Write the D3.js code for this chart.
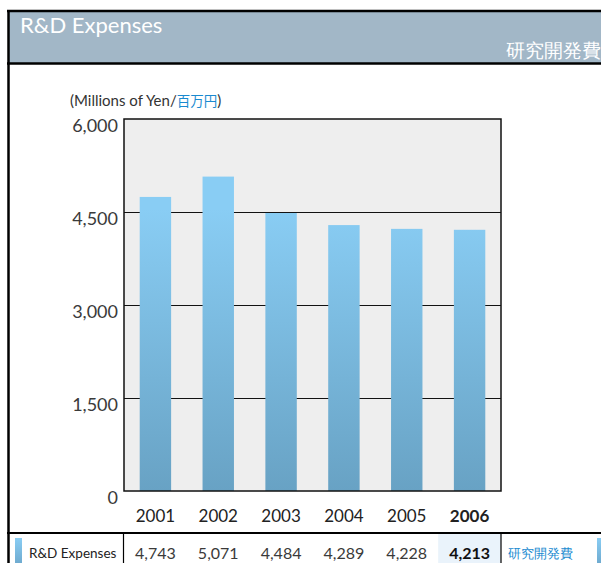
<!DOCTYPE html>
<html>
<head>
<meta charset="utf-8">
<script src="https://cdn.jsdelivr.net/npm/d3@7"></script>
<style>
  body { margin: 0; background: #fff; }
  svg { display: block; }
  text { font-family: "Lato", "Open Sans", sans-serif; }
</style>
</head>
<body>
<script>
'use strict'

// chart data
const years = ['2001', '2002', '2003', '2004', '2005', '2006'];
const expenses = [4743, 5071, 4484, 4289, 4228, 4213];
const yTicks = [0, 1500, 3000, 4500, 6000];
const titleEn = 'R&D Expenses';
const titleJa = '研究開発費';

const W = 601, H = 563;
const plot = {left: 124, right: 501, top: 119, bottom: 491};

const svg = d3.select('body').append('svg')
  .attr('width', W)
  .attr('height', H);

const defs = svg.append('defs');
const grad = defs.append('linearGradient')
  .attr('id', 'barGrad')
  .attr('gradientUnits', 'userSpaceOnUse')
  .attr('x1', 0).attr('x2', 0)
  .attr('y1', plot.top + 90).attr('y2', plot.bottom);
grad.append('stop').attr('offset', 0).attr('stop-color', '#89cdf4');
grad.append('stop').attr('offset', 1).attr('stop-color', '#68a2c4');

const swGrad = defs.append('linearGradient')
  .attr('id', 'swGrad')
  .attr('x1', 0).attr('x2', 0).attr('y1', 0).attr('y2', 1);
swGrad.append('stop').attr('offset', 0).attr('stop-color', '#89cdf4');
swGrad.append('stop').attr('offset', 1).attr('stop-color', '#6fabd0');

// header band
svg.append('rect')
  .attr('x', 8).attr('y', 11)
  .attr('width', W - 8).attr('height', 52)
  .attr('fill', '#a2b7c7');
svg.append('line')
  .attr('x1', 7).attr('x2', W).attr('y1', 11).attr('y2', 11)
  .attr('stroke', '#000').attr('stroke-width', 2.5);
svg.append('line')
  .attr('x1', 7).attr('x2', W).attr('y1', 63.5).attr('y2', 63.5)
  .attr('stroke', '#000').attr('stroke-width', 2.5);
svg.append('line')
  .attr('x1', 8.5).attr('x2', 8.5).attr('y1', 10).attr('y2', H)
  .attr('stroke', '#000').attr('stroke-width', 2.5);

svg.append('text')
  .attr('x', 20).attr('y', 33)
  .attr('fill', '#fff')
  .attr('font-size', 22)
  .text(titleEn);
svg.append('text')
  .attr('x', 601).attr('y', 57)
  .attr('text-anchor', 'end')
  .attr('fill', '#fff')
  .attr('font-size', 19)
  .attr('font-family', '"Noto Sans CJK JP", sans-serif')
  .attr('font-weight', 300)
  .text(titleJa);

// scales
const x = d3.scaleBand()
  .domain(years)
  .range([plot.left, plot.right])
  .paddingInner(0.5)
  .paddingOuter(0.25);

const y = d3.scaleLinear()
  .domain([0, 6000])
  .range([plot.bottom, plot.top]);

// plot background
svg.append('rect')
  .attr('x', plot.left).attr('y', plot.top)
  .attr('width', plot.right - plot.left)
  .attr('height', plot.bottom - plot.top)
  .attr('fill', '#eeeeee');

// gridlines (behind bars)
svg.append('g')
  .selectAll('line')
  .data(yTicks.filter(d => d > 0 && d < 6000))
  .enter()
  .append('line')
  .attr('x1', plot.left).attr('x2', plot.right)
  .attr('y1', d => y(d) + 0.5).attr('y2', d => y(d) + 0.5)
  .attr('stroke', '#111').attr('stroke-width', 1.2);

// bars
svg.append('g')
  .selectAll('rect')
  .data(expenses)
  .enter()
  .append('rect')
  .attr('x', (d, i) => x(years[i]))
  .attr('width', x.bandwidth())
  .attr('y', d => y(d))
  .attr('height', d => y(0) - y(d))
  .attr('fill', 'url(#barGrad)');

// frame
svg.append('rect')
  .attr('x', plot.left).attr('y', plot.top)
  .attr('width', plot.right - plot.left)
  .attr('height', plot.bottom - plot.top)
  .attr('fill', 'none')
  .attr('stroke', '#111').attr('stroke-width', 1.5);

// y axis labels
const yAxis = d3.axisLeft(y)
  .tickValues(yTicks)
  .tickSize(0)
  .tickPadding(6)
  .tickFormat(d3.format(','));
const gy = svg.append('g')
  .attr('transform', 'translate(' + [plot.left, 0] + ')')
  .call(yAxis);
gy.select('.domain').remove();
gy.selectAll('text')
  .attr('font-size', 18)
  .attr('fill', '#3a3a3a')
  .attr('dy', 0)
  .attr('y', 12);

// x axis labels
const xAxis = d3.axisBottom(x).tickSize(0).tickPadding(0);
const gx = svg.append('g')
  .attr('transform', 'translate(' + [0, plot.bottom] + ')')
  .call(xAxis);
gx.select('.domain').remove();
gx.selectAll('text')
  .attr('font-size', 17)
  .attr('fill', '#222')
  .attr('dy', 0)
  .attr('y', 30.5)
  .attr('font-weight', d => d === '2006' ? 'bold' : 400);

// unit label
const unit = svg.append('text')
  .attr('x', 70).attr('y', 106)
  .attr('font-size', 15)
  .attr('fill', '#333');
unit.append('tspan').text('(Millions of Yen/');
unit.append('tspan').attr('fill', '#1a8ad0')
  .attr('font-family', '"Noto Sans CJK JP", sans-serif')
  .attr('font-size', 13.5)
  .text('百万円');
unit.append('tspan').text(')');

// data table
const tTop = 533;
const hiX = x(years[5]) - x.step() * x.paddingInner() / 2;
svg.append('rect')
  .attr('x', hiX)
  .attr('y', tTop)
  .attr('width', plot.right - hiX)
  .attr('height', H - tTop)
  .attr('fill', '#eaf3fb');
svg.append('line')
  .attr('x1', 7).attr('x2', W).attr('y1', tTop).attr('y2', tTop)
  .attr('stroke', '#000').attr('stroke-width', 2);
[plot.left - 0.5, plot.right].forEach(xx => {
  svg.append('line')
    .attr('x1', xx).attr('x2', xx).attr('y1', tTop).attr('y2', H)
    .attr('stroke', '#000').attr('stroke-width', 1.2);
});
svg.append('rect')
  .attr('x', 15).attr('y', 538).attr('width', 7).attr('height', H - 538)
  .attr('fill', 'url(#swGrad)');
svg.append('rect')
  .attr('x', 597).attr('y', 538).attr('width', 7).attr('height', H - 538)
  .attr('fill', 'url(#swGrad)');
svg.append('text')
  .attr('x', 29).attr('y', 558)
  .attr('font-size', 13.5)
  .attr('fill', '#222')
  .text(titleEn);
svg.append('g')
  .selectAll('text')
  .data(expenses)
  .enter()
  .append('text')
  .attr('x', (d, i) => x(years[i]) + x.bandwidth() / 2)
  .attr('y', 559)
  .attr('text-anchor', 'middle')
  .attr('font-size', 16)
  .attr('fill', (d, i) => i === 5 ? '#111' : '#3a3a3a')
  .attr('font-weight', (d, i) => i === 5 ? 'bold' : 400)
  .text(d => d3.format(',')(d));
svg.append('text')
  .attr('x', 508).attr('y', 558)
  .attr('font-size', 13)
  .attr('fill', '#1a8ad0')
  .attr('font-family', '"Noto Sans CJK JP", sans-serif')
  .text(titleJa);
</script>
</body>
</html>
